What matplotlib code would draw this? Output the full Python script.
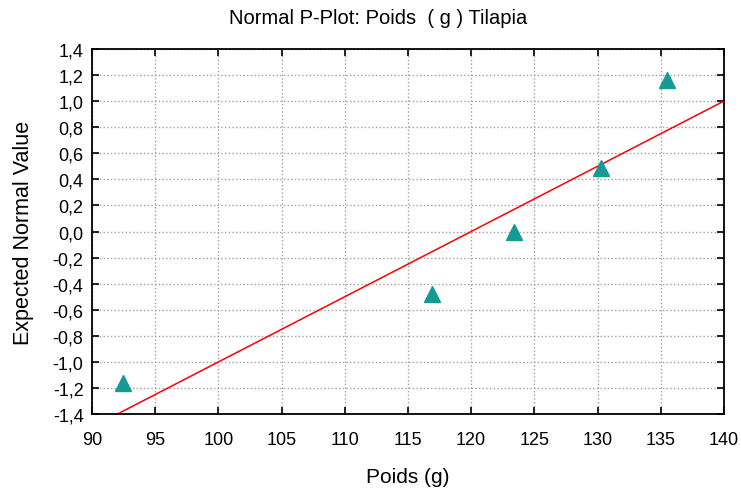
import matplotlib
matplotlib.use("Agg")
import matplotlib.pyplot as plt
import numpy as np
from matplotlib.ticker import FuncFormatter

plt.rcParams['font.family'] = ['Liberation Sans', 'DejaVu Sans']

# observed weights and their expected normal values
poids = [92.45, 116.9, 123.4, 130.3, 135.5]
expected = [-1.16, -0.48, 0.0, 0.49, 1.16]

# reference line: y = (x - 120) / 20
line_mean = 120.0
line_sd = 20.0

xticks = [90, 95, 100, 105, 110, 115, 120, 125, 130, 135, 140]
yticks = [-1.4, -1.2, -1.0, -0.8, -0.6, -0.4, -0.2, 0.0, 0.2, 0.4, 0.6, 0.8, 1.0, 1.2, 1.4]

fig = plt.figure(figsize=(7.41, 4.89), dpi=100)
ax = fig.add_axes([0.124, 0.151, 0.853, 0.747])

lx = np.array([90, 140])
ax.plot(lx, (lx - line_mean) / line_sd, color='#ff0000', lw=1.1, zorder=2)
ax.plot(poids, expected, linestyle='none', marker='^', ms=11,
        color='#159a94', markeredgecolor='#159a94', zorder=3)

ax.set_xlim(90, 140)
ax.set_ylim(-1.4, 1.4)
ax.set_xticks(xticks)
ax.set_yticks(yticks)
ax.yaxis.set_major_formatter(FuncFormatter(lambda v, p: f"{v:.1f}".replace('.', ',').replace('-0,0', '0,0')))
ax.grid(True, linestyle=':', color='#a0a0a0', lw=1)
ax.tick_params(direction='in', length=5, width=1.2, top=True, right=True,
               labelsize=13, colors='black', pad=6)
ax.tick_params(axis='x', pad=12)
for s in ax.spines.values():
    s.set_linewidth(1.3)

# title sits on the figure centre, not the axes centre
fig.text(0.51, 0.963, 'Normal P-Plot: Poids  ( g ) Tilapia', fontsize=14.5,
         ha='center', va='center')
ax.set_xlabel('Poids (g)', fontsize=15, labelpad=14)
ax.set_ylabel('Expected Normal Value', fontsize=15.5, labelpad=13)

fig.savefig('out.png', dpi=100)
